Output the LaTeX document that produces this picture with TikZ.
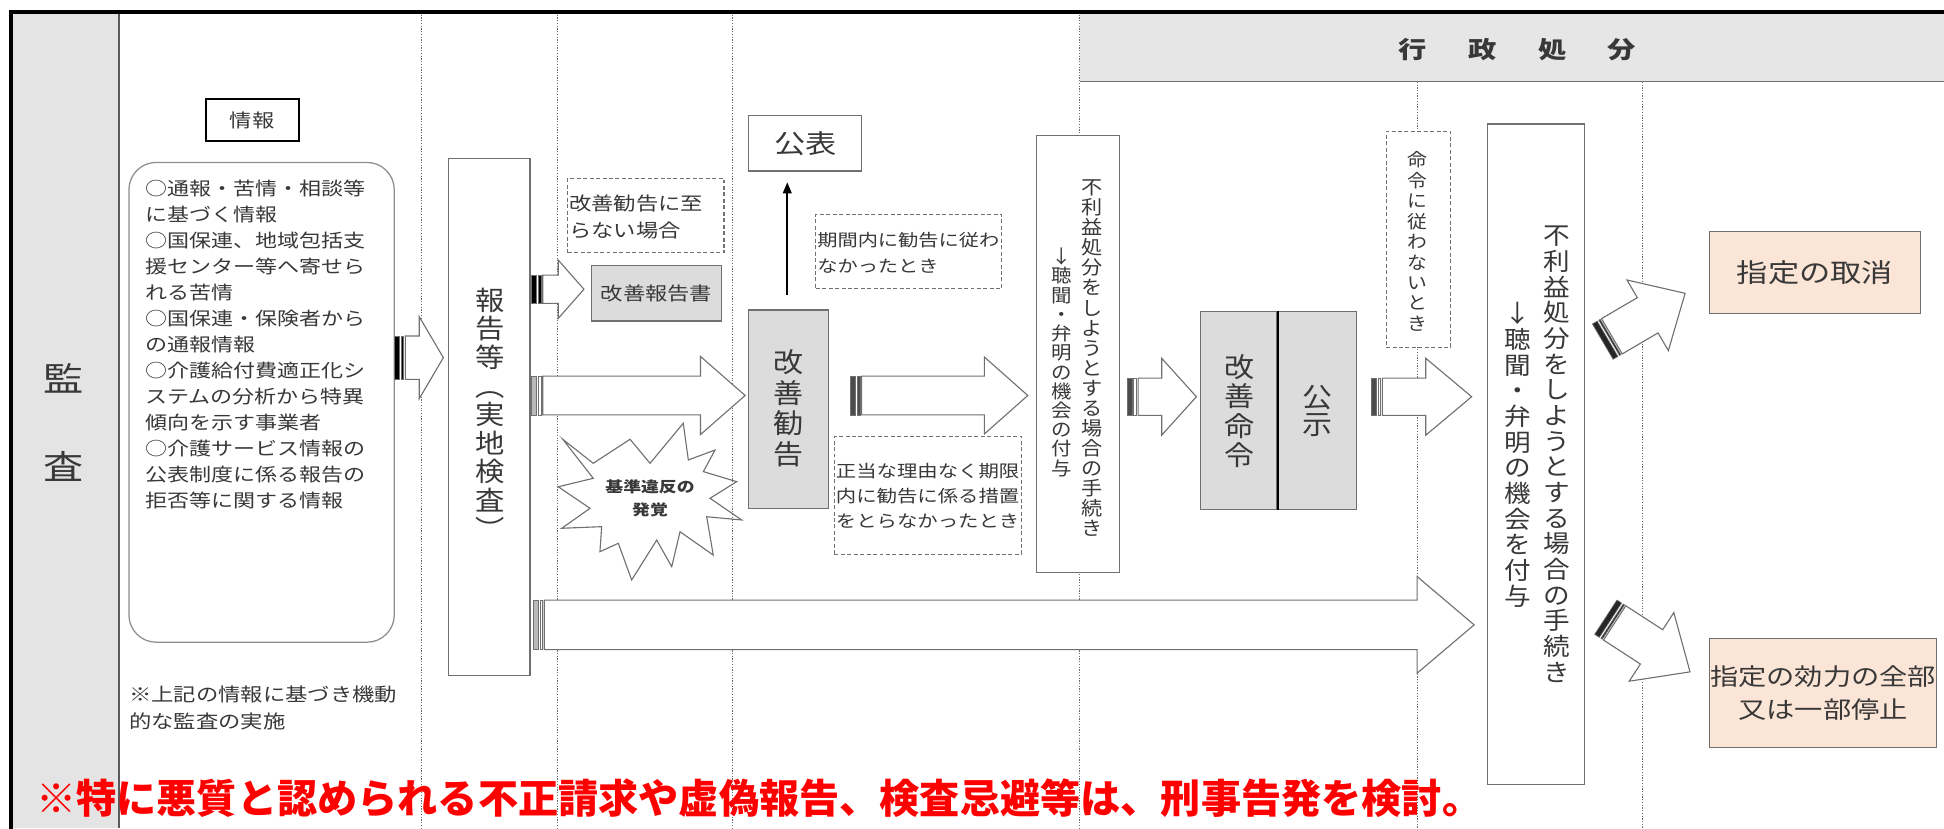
\documentclass[tikz,border=0pt]{standalone}
\usepackage{fontspec}
\setmainfont{Noto Sans CJK JP}
\newfontfamily\jw[FakeStretch=1.2]{Noto Sans CJK JP}
\newfontfamily\jv[FakeStretch=1.1]{Noto Sans CJK JP}
\newfontfamily\jn{Noto Sans CJK JP}
\usetikzlibrary{arrows.meta}
\definecolor{edge}{HTML}{707070}
\definecolor{boxgray}{HTML}{DCDCDC}
\definecolor{colgray}{HTML}{E4E4E4}
\definecolor{bandgray}{HTML}{E6E6E6}
\definecolor{peach}{HTML}{FBE5D6}
\definecolor{txt}{HTML}{383838}
\definecolor{redtxt}{HTML}{FF0000}
\newcommand\fsz[1]{\fontsize{#1}{#1}\selectfont}
\tikzset{
  every node/.style={inner sep=0pt},
  tx/.style={text=txt},
  boxw/.style={draw=edge, line width=1pt, fill=white},
  boxg/.style={draw=edge, line width=1pt, fill=boxgray},
  boxp/.style={draw=edge, line width=1pt, fill=peach},
  dashbox/.style={draw=edge, line width=0.9pt, dash pattern=on 3.2pt off 2pt, fill=white},
  guide/.style={draw=gray!85!black, line width=0.8pt, dash pattern=on 1pt off 1.2pt},
  arrowbody/.style={draw=edge, line width=0.9pt, fill=white},
  stripe/.style={draw=edge, line width=0.5pt},
}
% vertical column of characters
\newcommand\vcol[6]{%
  \foreach \c [count=\i from 0] in {#6}
    \node[tx, anchor=base, font=\jv\fsz{#5}, name=#1\i] at (#2, {#3+\i*#4+0.38*#5}) {\c};%
}
% horizontal lines, left aligned
\newcommand\hlines[6]{%
  \foreach \t [count=\i from 0] in {#6}
    \node[tx, anchor=base west, font=\jw\fsz{#5}, name=#1\i] at (#2, {#3+\i*#4+0.38*#5}) {\t};%
}
% horizontal striped block arrow: tail, head x, tip, cy, shaft half, head half, stripe1, stripe2
\newcommand\harr[8]{%
  \filldraw[stripe, fill=#7] (#1,#4-#5) rectangle (#1+4,#4+#5);
  \filldraw[stripe, fill=#8] (#1+5.5,#4-#5) rectangle (#1+7.5,#4+#5);
  \filldraw[arrowbody] (#1+9,#4-#5) -- (#2,#4-#5) -- (#2,#4-#6) -- (#3,#4) -- (#2,#4+#6) -- (#2,#4+#5) -- (#1+9,#4+#5) -- cycle;
}
% diagonal striped block arrow: tail x, tail y, angle, length, head length
\newcommand\darr[5]{%
  \begin{scope}[shift={(#1,#2)}, rotate=#3]
    \filldraw[stripe, fill=black!85] (0,-16.5) rectangle (4.5,16.5);
    \filldraw[stripe, fill=black!85] (6,-16.5) rectangle (7.3,16.5);
    \filldraw[arrowbody] (8.5,-16.5) -- (#4-#5,-16.5) -- (#4-#5,-33) -- (#4,0) -- (#4-#5,33) -- (#4-#5,16.5) -- (8.5,16.5) -- cycle;
  \end{scope}%
}
\begin{document}
\begin{tikzpicture}[x=1pt,y=-1pt]
\path[use as bounding box] (0,0) rectangle (1568,668);
\clip (0,0) rectangle (1568,668);
\fill[white] (0,0) rectangle (1568,668);
% left column and header band
\fill[colgray] (9,9.7) rectangle (96,668);
\fill[bandgray] (871,9.7) rectangle (1568,66);
\draw[edge, line width=1pt] (871,66) -- (1568,66);
% explosion
\filldraw[fill=white, draw=edge, line width=0.9pt]
  (453.9,354.3) -- (478.5,373.7) -- (508.2,354.3) -- (524.3,373.7) -- (551.1,341.4)
  -- (555.2,371.0) -- (576.7,363.0) -- (567.3,380.4) -- (594.2,388.5) -- (572.7,401.9)
  -- (598.2,419.4) -- (570.0,416.8) -- (575.3,447.7) -- (548.5,428.9) -- (541.8,457.1)
  -- (529.7,435.6) -- (509.5,467.8) -- (498.7,438.2) -- (483.9,445.0) -- (485.3,424.8)
  -- (453.1,426.1) -- (475.9,410.0) -- (450.3,392.6) -- (478.5,385.8) -- cycle;
% guide lines
\foreach \x/\ya in {340/9.7, 450/9.7, 591/9.7, 871/9.7, 1143/66, 1325/66}
  \draw[guide] (\x,\ya) -- (\x,668);
\draw[edge!80!black, line width=1.2pt] (96,9.7) -- (96,668);
\draw[black, line width=3pt] (9,690) -- (9,9.7) -- (1590,9.7);
% column and header labels
\node[tx, font=\jw\fsz{27}] (kan) at (51,305) {監};
\node[tx, font=\jw\fsz{27}] (sa) at (51,376.5) {査};
\foreach \c/\x [count=\i] in {行/1139, 政/1195.5, 処/1252, 分/1308}
  \node[tx, font=\jw\bfseries\fsz{19}, name=gyosei\i] at (\x,40) {\c};
% information
\node[draw=black, line width=1.6pt, fill=white, minimum width=75, minimum height=34, tx, font=\jw\fsz{15}] (joho) at (203.5,97) {情報};
\node[boxw, draw=edge!80, rounded corners=22pt, minimum width=214, minimum height=387] (infobox) at (211,324.5) {};
\hlines{inf}{117}{152}{20.95}{14.8}{○通報・苦情・相談等,に基づく情報,○国保連、地域包括支,援センター等へ寄せら,れる苦情,○国保連・保険者から,の通報情報,○介護給付費適正化シ,ステムの分析から特異,傾向を示す事業者,○介護サービス情報の,公表制度に係る報告の,拒否等に関する情報}
\hlines{note}{104}{560}{22}{15}{※上記の情報に基づき機動,的な監査の実施}
\harr{318}{338.2}{357.6}{288.5}{17.5}{33}{black}{black}
% report / inspection
\node[boxw, minimum width=66, minimum height=417] (hokoku) at (394.5,336.5) {};
\vcol{hk}{395}{242}{23.1}{21.5}{報,告,等,︵,実,地,検,査,︶}
% no recommendation
\node[dashbox, minimum width=126, minimum height=60] (nokankoku) at (521,174) {};
\hlines{d1}{459}{164}{22}{15}{改善勧告に至,らない場合}
\harr{428.8}{450.3}{471}{233.3}{11.4}{23.5}{black}{black}
\node[boxg, minimum width=105, minimum height=45, tx, font=\jw\fsz{15}] (houkokusho) at (529.5,236.5) {改善報告書};
\harr{428.8}{565}{601}{319}{15.6}{31.5}{gray!55}{white}
\node[tx, font=\jw\bfseries\fsz{12}] (kijun1) at (524.3,393) {基準違反の};
\node[tx, font=\jw\bfseries\fsz{12}] (kijun2) at (524.3,411.3) {発覚};
% recommendation
\node[boxg, minimum width=64, minimum height=160] (kankoku) at (636,330) {};
\vcol{kk}{636}{292}{24.7}{22}{改,善,勧,告}
\node[boxw, minimum width=91, minimum height=45, tx, font=\jw\fsz{21}] (kohyo) at (649.5,115.5) {公表};
\coordinate (upA) at (635,238);
\coordinate (upB) at (635,147);
\draw[black, line width=1.6pt, -{Triangle[width=7pt,length=9pt]}] (upA) -- (upB);
\node[dashbox, minimum width=150, minimum height=60] (kikannai) at (733,203) {};
\hlines{d2}{659}{194}{21}{13.6}{期間内に勧告に従わ,なかったとき}
\harr{686}{794}{829}{319}{15.6}{31}{gray!60!black}{gray!60!black}
\node[dashbox, minimum width=151, minimum height=95] (seito) at (748.5,399.5) {};
\hlines{d3}{674}{380}{20}{13.7}{正当な理由なく期限,内に勧告に係る措置,をとらなかったとき}
% first hearing box
\node[boxw, minimum width=67, minimum height=353] (furieki1) at (869.5,285.5) {};
\vcol{fa}{880.5}{151}{16.2}{15.5}{不,利,益,処,分,を,し,よ,う,と,す,る,場,合,の,手,続,き}
\vcol{fb}{856}{207}{15.5}{15}{↓,聴,聞,・,弁,明,の,機,会,の,付,与}
\harr{909}{937}{965}{320}{15}{31}{gray!60!black}{white}
% order / public notice
\node[boxg, minimum width=62, minimum height=160] (meirei) at (999,331) {};
\node[boxg, minimum width=64, minimum height=160] (koji) at (1062,331) {};
\draw[black, line width=1.6pt] (meirei.north east) -- (meirei.south east);
\vcol{mr}{1000}{296}{23.7}{22}{改,善,命,令}
\vcol{kj}{1063}{320}{22}{22}{公,示}
\node[dashbox, minimum width=52, minimum height=174] (shitagawanai) at (1144,193) {};
\vcol{d4}{1143}{129}{16.5}{14.5}{命,令,に,従,わ,な,い,と,き}
\harr{1106}{1150}{1187}{320}{15}{31}{gray!60!black}{white}
% second hearing box
\node[boxw, minimum width=78, minimum height=533] (furieki2) at (1239,366.5) {};
\vcol{ga}{1256}{190}{20.7}{19.5}{不,利,益,処,分,を,し,よ,う,と,す,る,場,合,の,手,続,き}
\vcol{gb}{1224}{253}{20.7}{19.5}{↓,聴,聞,・,弁,明,の,機,会,を,付,与}
% long arrow
\harr{430}{1143}{1189}{504}{20}{39}{gray!55}{white}
% outcome arrows and boxes
\darr{1292.75}{275.55}{30.4}{77}{35}
\darr{1295.2}{497.8}{-33}{81}{37}
\node[boxp, minimum width=170, minimum height=66, tx, font=\jw\fsz{21}] (torikeshi) at (1464,220) {指定の取消};
\node[boxp, minimum width=183, minimum height=88, tx, align=center, font=\jw\fontsize{19}{27}\selectfont] (teishi) at (1470.5,559) {指定の効力の全部\\又は一部停止};
% red note
\node[anchor=base west, text=redtxt, font=\jn\bfseries\fsz{32.4}] (rednote) at (29,656.3) {※特に悪質と認められる不正請求や虚偽報告、検査忌避等は、刑事告発を検討。};
\end{tikzpicture}
\end{document}
